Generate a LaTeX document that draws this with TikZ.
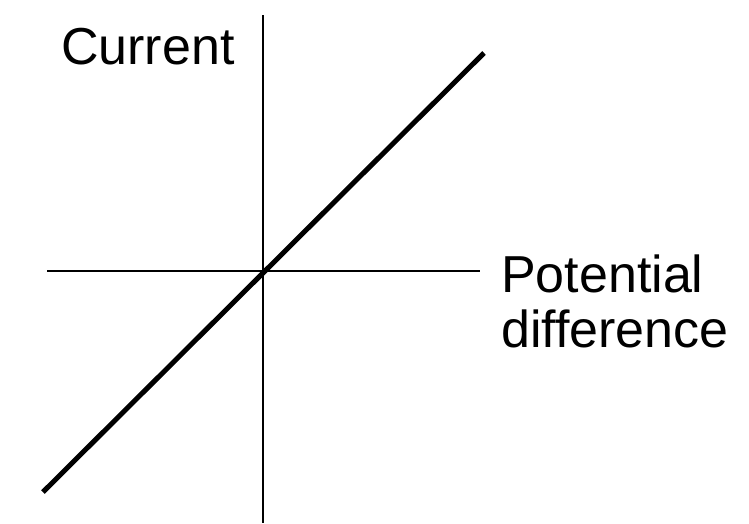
\documentclass[tikz,border=0pt]{standalone}
\usepackage{fontspec}
\setmainfont{Liberation Sans}
\begin{document}
\begin{tikzpicture}[x=1pt,y=-1pt,
  axis/.style={line width=2pt,black},
  graphline/.style={line width=5pt,black},
  lbl/.style={anchor=base west,inner sep=0pt,font=\fontsize{52}{57}\selectfont}]
\useasboundingbox (0,0) rectangle (749,523);
\coordinate (vt) at (263,15);
\coordinate (vb) at (263,523);
\coordinate (hl) at (47,271);
\coordinate (hr) at (480,271);
\coordinate (ds) at (43,492);
\coordinate (de) at (484,53);
\draw[axis] (vt) -- (vb);
\draw[axis] (hl) -- (hr);
\draw[graphline] (ds) -- (de);
\node[lbl] (cur) at (61,64) {Current};
\node[lbl] (pot) at (501,292) {Potential};
\node[lbl] (dif) at (501,347) {difference};
\end{tikzpicture}
\end{document}
